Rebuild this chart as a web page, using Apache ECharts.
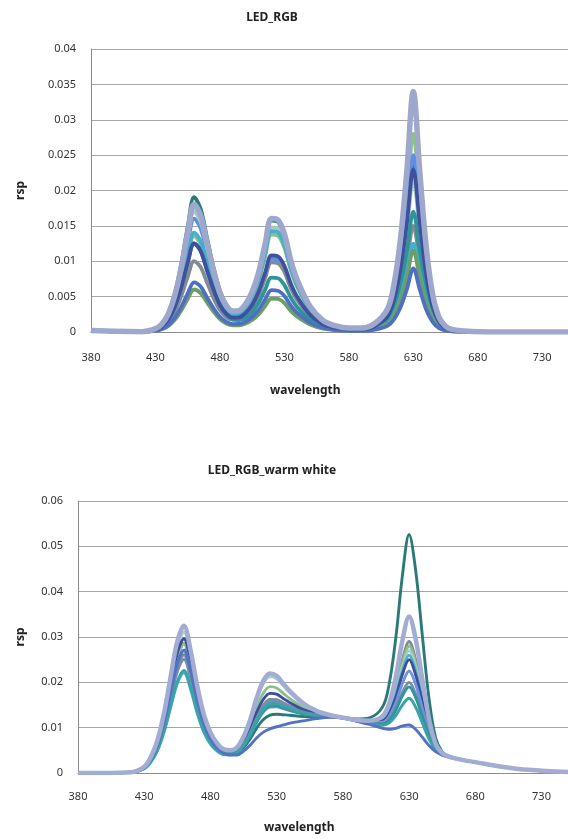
<!DOCTYPE html>
<html>
<head>
<meta charset="utf-8">
<script src="https://cdn.jsdelivr.net/npm/echarts@6/dist/echarts.min.js"></script>
<style>
html,body{margin:0;padding:0;background:#fff;}
#c{width:568px;height:839px;}
</style>
</head>
<body>
<div id="c"></div>
<script>
// wavelength samples (nm)
var wavelengths = [380,420,430,435,440,445,450,455, 460,465,470,475,480,485,490,495, 500,505,510,515,520,525,530,535, 540,550,560,570,580,590,600,610, 615,620,625,630,635,640,645,650, 655,660,670,680,700,720,750];

// ---- LED_RGB series ----
var rgb1 = [0.0002,0.00006,0.00049,0.0012,0.0027,0.00543,0.00961,0.01482, 0.01905,0.01743,0.01328,0.00917,0.00583,0.00387,0.00302,0.00306, 0.00396,0.0056,0.00829,0.01215,0.01576,0.01556,0.0136,0.00992, 0.0072,0.00352,0.0016,0.00082,0.00049,0.00043,0.00086,0.00226, 0.00463,0.009,0.01572,0.0235,0.01572,0.00832,0.00369,0.00143, 0.00056,0.00025,0.00009,0.00002,0,0,0];
var rgb2 = [0.0002,0.00004,0.00035,0.00085,0.00192,0.00386,0.00683,0.01053, 0.01354,0.0124,0.00946,0.00654,0.0042,0.00286,0.00233,0.00249, 0.00334,0.00482,0.0072,0.01061,0.01377,0.01361,0.0119,0.00868, 0.0063,0.00308,0.0014,0.00073,0.00046,0.00046,0.00099,0.00269, 0.00552,0.01072,0.01873,0.028,0.01873,0.00991,0.0044,0.00171, 0.00067,0.00029,0.00011,0.00003,0,0,0];
var rgb3 = [0.0002,0.00005,0.00042,0.00101,0.00227,0.00458,0.0081,0.01248, 0.01603,0.01466,0.01116,0.00768,0.00485,0.00314,0.00234,0.00222, 0.00274,0.00376,0.00549,0.00801,0.01035,0.01022,0.00893,0.00651, 0.00473,0.00231,0.00105,0.00056,0.00036,0.00039,0.00088,0.0024, 0.00493,0.00958,0.01673,0.025,0.01673,0.00885,0.00393,0.00153, 0.0006,0.00026,0.0001,0.00003,0,0,0];
var rgb4 = [0.0002,0.00003,0.00026,0.00063,0.00142,0.00286,0.00506,0.0078, 0.01003,0.00918,0.007,0.00484,0.0031,0.0021,0.0017,0.0018, 0.0024,0.00345,0.00515,0.00758,0.00984,0.00972,0.0085,0.0062, 0.0045,0.0022,0.001,0.00052,0.00031,0.00027,0.00055,0.00144, 0.00296,0.00575,0.01004,0.015,0.01004,0.00531,0.00236,0.00092, 0.00036,0.00016,0.00006,0.00002,0,0,0];
var rgb5 = [0.0002,0.00005,0.00044,0.00107,0.00241,0.00486,0.0086,0.01326, 0.01705,0.0156,0.01189,0.00821,0.00523,0.00349,0.00275,0.00282, 0.00368,0.00523,0.00776,0.01139,0.01477,0.01458,0.01275,0.0093, 0.00675,0.0033,0.0015,0.00077,0.00047,0.0004,0.00079,0.00206, 0.00424,0.00823,0.01438,0.0215,0.01438,0.00761,0.00338,0.00131, 0.00052,0.00023,0.00009,0.00002,0,0,0];
var rgb6 = [0.0002,0.00004,0.00033,0.00079,0.00178,0.00358,0.00633,0.00975, 0.01252,0.01145,0.00871,0.00601,0.00379,0.00244,0.0018,0.00169, 0.00206,0.00281,0.00409,0.00595,0.00769,0.0076,0.00663,0.00484, 0.00351,0.00172,0.00078,0.00041,0.00027,0.00026,0.0006,0.00163, 0.00335,0.00651,0.01137,0.017,0.01137,0.00602,0.00267,0.00104, 0.00041,0.00018,0.00007,0.00002,0,0,0];
var rgb7 = [0.0002,0.00004,0.00036,0.00088,0.00199,0.004,0.00708,0.01092, 0.01404,0.01285,0.0098,0.00679,0.00435,0.00296,0.00242,0.00258, 0.00346,0.00499,0.00746,0.01099,0.01427,0.0141,0.01233,0.00899, 0.00653,0.00319,0.00145,0.00074,0.00041,0.0003,0.00048,0.0012, 0.00246,0.00479,0.00836,0.0125,0.00836,0.00443,0.00196,0.00076, 0.0003,0.00013,0.00005,0.00001,0,0,0];
var rgb8 = [0.0002,0.00002,0.00016,0.00038,0.00085,0.00172,0.00304,0.00468, 0.00601,0.0055,0.00419,0.00289,0.00184,0.00121,0.00094,0.00094, 0.0012,0.00169,0.00249,0.00365,0.00472,0.00467,0.00408,0.00298, 0.00216,0.00106,0.00048,0.00025,0.00017,0.00018,0.0004,0.0011, 0.00227,0.0044,0.00769,0.0115,0.00769,0.00407,0.00181,0.0007, 0.00028,0.00012,0.00005,0.00001,0,0,0];
var rgb9 = [0.0002,0.00002,0.00018,0.00044,0.00099,0.002,0.00354,0.00546, 0.00702,0.00642,0.00489,0.00338,0.00215,0.00143,0.00112,0.00114, 0.00148,0.0021,0.00311,0.00456,0.00591,0.00583,0.0051,0.00372, 0.0027,0.00132,0.0006,0.00031,0.00019,0.00016,0.00033,0.00086, 0.00177,0.00345,0.00602,0.009,0.00602,0.00319,0.00141,0.00055, 0.00022,0.00009,0.00004,0.00001,0,0,0];
var rgb10 = [0.0002,0.00004,0.00033,0.00079,0.00178,0.00358,0.00633,0.00975, 0.01253,0.01147,0.00874,0.00604,0.00385,0.00257,0.00202,0.00207, 0.0027,0.00383,0.00569,0.00835,0.01083,0.0107,0.00935,0.00682, 0.00495,0.00242,0.0011,0.00057,0.00037,0.00036,0.00082,0.00221, 0.00453,0.00881,0.01539,0.023,0.01539,0.00814,0.00361,0.0014, 0.00055,0.00024,0.00009,0.00002,0,0,0];
var rgb11 = [0.0002,0.00005,0.00047,0.00113,0.00256,0.00515,0.00911,0.01404, 0.01805,0.01651,0.01258,0.00869,0.00555,0.00371,0.00294,0.00304, 0.00398,0.00567,0.00842,0.01237,0.01604,0.01585,0.01386,0.01011, 0.00734,0.00359,0.00163,0.00085,0.00055,0.00055,0.0012,0.00326, 0.0067,0.01302,0.02275,0.034,0.02275,0.01204,0.00534,0.00207, 0.00082,0.00036,0.00014,0.00003,0,0,0];
var rgbColors = ['#2B7A78','#8CC18B','#5E8FE3','#7F8C96','#ABC6C0','#2F9497','#46ADCC','#6C9F66','#4E6FC2','#3F519E','#9EA8CD'];

// ---- LED_RGB_warm white series ----
var ww1 = [0,0.00017,0.00123,0.00311,0.00636,0.01169,0.01875,0.02554, 0.0286,0.02384,0.01697,0.01147,0.00793,0.00582,0.00458,0.00423, 0.00439,0.00561,0.00752,0.00996,0.0118,0.01276,0.01296,0.01285, 0.01274,0.01246,0.01242,0.01242,0.01228,0.01193,0.01218,0.01459, 0.0197,0.02987,0.04364,0.0526,0.04459,0.03033,0.01655,0.00779, 0.00469,0.00373,0.0029,0.0024,0.0014,0.0007,0.0002];
var ww3 = [0,0.00016,0.00112,0.00283,0.0058,0.01066,0.01711,0.0233, 0.0261,0.02178,0.01553,0.01053,0.00736,0.00551,0.00447,0.0043, 0.00472,0.00643,0.00907,0.01246,0.01505,0.01625,0.01618,0.01548, 0.01477,0.01358,0.01291,0.01256,0.01219,0.01165,0.01135,0.01192, 0.01404,0.01861,0.02495,0.029,0.02493,0.01773,0.01065,0.00606, 0.00428,0.00361,0.0029,0.0024,0.0014,0.0007,0.0002];
var ww4 = [0,0.00017,0.00123,0.00311,0.00636,0.01169,0.01875,0.02554, 0.0286,0.02384,0.01697,0.01147,0.00799,0.00595,0.00477,0.00461, 0.00515,0.00719,0.01036,0.0145,0.01766,0.01906,0.01876,0.01758, 0.01639,0.01448,0.0133,0.01267,0.01218,0.01164,0.01131,0.01181, 0.0138,0.01813,0.02416,0.028,0.02409,0.01719,0.0104,0.00599, 0.00426,0.0036,0.0029,0.0024,0.0014,0.0007,0.0002];
var ww5 = [0,0.00019,0.00133,0.00338,0.00691,0.01271,0.0204,0.02778, 0.0311,0.02591,0.01842,0.01242,0.00862,0.00637,0.00507,0.00489, 0.0055,0.00779,0.01138,0.0161,0.01972,0.02126,0.02078,0.01923, 0.01767,0.01518,0.01361,0.01276,0.01218,0.01163,0.01128,0.01169, 0.01356,0.01765,0.02336,0.027,0.02326,0.01666,0.01015,0.00592, 0.00424,0.0036,0.0029,0.0024,0.0014,0.0007,0.0002];
var ww6 = [0,0.00013,0.00095,0.0024,0.00491,0.00902,0.01448,0.01971, 0.0221,0.01847,0.01322,0.00902,0.00638,0.00489,0.00408,0.00404, 0.00451,0.00621,0.00879,0.01207,0.01457,0.01574,0.01572,0.0151, 0.01448,0.01342,0.01284,0.01254,0.01217,0.01162,0.01124,0.01158, 0.01332,0.01718,0.02257,0.026,0.02243,0.01613,0.0099,0.00584, 0.00422,0.00359,0.0029,0.0024,0.0014,0.0007,0.0002];
var ww7 = [0,0.00018,0.00127,0.00322,0.00658,0.0121,0.01941,0.02643, 0.0296,0.02467,0.01755,0.01185,0.00822,0.00607,0.00481,0.00458, 0.005,0.00683,0.00969,0.01343,0.01627,0.01756,0.01738,0.01645, 0.01552,0.014,0.01309,0.01261,0.01217,0.0116,0.01121,0.01147, 0.01308,0.0167,0.02178,0.025,0.02159,0.01559,0.00965,0.00577, 0.00421,0.00359,0.0029,0.0024,0.0014,0.0007,0.0002];
var ww8 = [0,0.00016,0.00116,0.00294,0.00602,0.01107,0.01777,0.02419, 0.0271,0.0226,0.01611,0.01091,0.00758,0.00563,0.0045,0.00426, 0.00455,0.00602,0.00831,0.01125,0.01347,0.01455,0.01462,0.0142, 0.01378,0.01304,0.01267,0.01249,0.01216,0.01157,0.01112,0.01118, 0.01248,0.01551,0.0198,0.0225,0.01951,0.01426,0.00903,0.00559, 0.00416,0.00357,0.0029,0.0024,0.0014,0.0007,0.0002];
var ww9 = [0,0.00015,0.00108,0.00273,0.00558,0.01025,0.01645,0.0224, 0.0251,0.02095,0.01495,0.01015,0.00711,0.00535,0.00436,0.00421, 0.00462,0.00628,0.00883,0.0121,0.01458,0.01575,0.01572,0.0151, 0.01448,0.01342,0.01284,0.01254,0.01215,0.01155,0.01103,0.0109, 0.01188,0.01431,0.01782,0.02,0.01743,0.01292,0.0084,0.00541, 0.00412,0.00356,0.0029,0.0024,0.0014,0.0007,0.0002];
var ww10 = [0,0.00016,0.00116,0.00294,0.00602,0.01107,0.01777,0.02419, 0.0271,0.0226,0.01611,0.01091,0.00758,0.00563,0.00451,0.00427, 0.00457,0.00607,0.0084,0.01139,0.01366,0.01475,0.0148,0.01435, 0.0139,0.0131,0.0127,0.0125,0.01215,0.01153,0.011,0.01079, 0.01164,0.01384,0.01703,0.019,0.0166,0.01239,0.00815,0.00533, 0.0041,0.00356,0.0029,0.0024,0.0014,0.0007,0.0002];
var ww11 = [0,0.00014,0.00097,0.00245,0.00502,0.00923,0.01481,0.02016, 0.0226,0.01889,0.01351,0.00921,0.00651,0.00495,0.00412,0.00404, 0.00447,0.0061,0.00857,0.01172,0.01411,0.01525,0.01526,0.01473, 0.01419,0.01326,0.01277,0.01252,0.01214,0.0115,0.01091,0.01051, 0.01104,0.01265,0.01505,0.0165,0.01451,0.01105,0.00753,0.00515, 0.00406,0.00354,0.0029,0.0024,0.0014,0.0007,0.0002];
var ww12 = [0,0.00016,0.00116,0.00294,0.00602,0.01107,0.01777,0.02419, 0.0271,0.0226,0.01611,0.01091,0.00753,0.00553,0.00436,0.00397, 0.00397,0.00482,0.00615,0.00779,0.00901,0.00975,0.0102,0.0106, 0.011,0.0115,0.012,0.0123,0.01211,0.01144,0.01071,0.00984, 0.00962,0.00983,0.01038,0.0106,0.0096,0.0079,0.00605,0.00472, 0.00395,0.00352,0.0029,0.0024,0.0014,0.0007,0.0002];
var ww2 = [0,0.00019,0.00139,0.00353,0.00723,0.01328,0.02132,0.02903, 0.0325,0.02706,0.01923,0.01295,0.00896,0.0066,0.00522,0.00501, 0.00563,0.008,0.01171,0.01661,0.02038,0.02196,0.02142,0.01975, 0.01808,0.0154,0.01371,0.01279,0.01221,0.01171,0.01154,0.01254, 0.01536,0.02123,0.0293,0.0345,0.02951,0.02066,0.01203,0.00646, 0.00437,0.00363,0.0029,0.0024,0.0014,0.0007,0.0002];
var wwColors = ['#2B7A78','#7D8A98','#8CC18B','#AECAC4','#4BB0C6','#3D4E9C','#6D93E2','#7A8CA8','#2E9699','#3AA3A8','#5472C4','#A3ACD2'];

// tick settings
var xMin = 380, xMax = 750, xStep = 50;
var yTopMax = 0.04, yTopStep = 0.005;
var yBotMax = 0.06, yBotStep = 0.01;

var rgbSets = [rgb1,rgb2,rgb3,rgb4,rgb5,rgb6,rgb7,rgb8,rgb9,rgb10,rgb11];
var wwSets = [ww1,ww3,ww4,ww5,ww6,ww7,ww8,ww9,ww10,ww11,ww12,ww2];

function pairs(arr){ return arr.map(function(v,i){ return [wavelengths[i], v]; }); }

var FONT = '"Noto Sans", "DejaVu Sans", sans-serif';
var series = [];
rgbSets.forEach(function(s, i){
  var last = i === rgbSets.length - 1;
  series.push({type:'line', xAxisIndex:0, yAxisIndex:0, data:pairs(s), showSymbol:false, smooth:0.35,
    lineStyle:{color:rgbColors[i], width: last ? 5.5 : 3.8}, itemStyle:{color:rgbColors[i]}, silent:true, z: 2 + i});
});
wwSets.forEach(function(s, i){
  var last = i === wwSets.length - 1;
  series.push({type:'line', xAxisIndex:1, yAxisIndex:1, data:pairs(s), showSymbol:false, smooth:0.35,
    lineStyle:{color:wwColors[i], width: last ? 4.5 : 2.9}, itemStyle:{color:wwColors[i]}, silent:true, z: 2 + i});
});

function xAxisCfg(gi, margin){
  return {type:'value', gridIndex:gi, min:xMin, max:xMax, interval:xStep,
    axisLine:{show:true, lineStyle:{color:'#8c8c8c', width:1}}, axisTick:{show:false}, splitLine:{show:false},
    axisLabel:{showMaxLabel:false, margin:margin, color:'#333', fontSize:11, fontFamily:FONT}};
}
function yAxisCfg(gi, max, step, gap){
  return {type:'value', gridIndex:gi, min:0, max:max, interval:step,
    name:'rsp', nameLocation:'middle', nameRotate:90, nameGap:gap,
    nameTextStyle:{fontWeight:'bold', fontSize:12, color:'#222', fontFamily:FONT},
    axisLine:{show:true, lineStyle:{color:'#8c8c8c', width:1}}, axisTick:{show:false},
    splitLine:{show:true, lineStyle:{color:'#a6a6a6', width:1}},
    axisLabel:{margin:15, color:'#333', fontSize:11, fontFamily:FONT}};
}

var chart = echarts.init(document.getElementById('c'), null, {renderer:'canvas'});
chart.setOption({
  animation:false,
  backgroundColor:'#fff',
  title:[
    {text:'LED_RGB', left:267, top:7, textAlign:'center', textStyle:{fontSize:12, fontWeight:'bold', color:'#222', fontFamily:FONT}},
    {text:'LED_RGB_warm white', left:267, top:460, textAlign:'center', textStyle:{fontSize:12, fontWeight:'bold', color:'#222', fontFamily:FONT}}
  ],
  graphic:[
    {type:'text', left:303 - 33, top:385, style:{text:'wavelength', font:'bold 12px ' + FONT, fill:'#222'}},
    {type:'text', left:297 - 33, top:822, style:{text:'wavelength', font:'bold 12px ' + FONT, fill:'#222'}}
  ],
  grid:[
    {left:91, top:49, right:0, bottom:839-332},
    {left:78, top:501, right:0, bottom:839-773}
  ],
  xAxis:[xAxisCfg(0, 20), xAxisCfg(1, 18)],
  yAxis:[yAxisCfg(0, yTopMax, yTopStep, 64), yAxisCfg(1, yBotMax, yBotStep, 51)],
  series:series
});
</script>
</body>
</html>
